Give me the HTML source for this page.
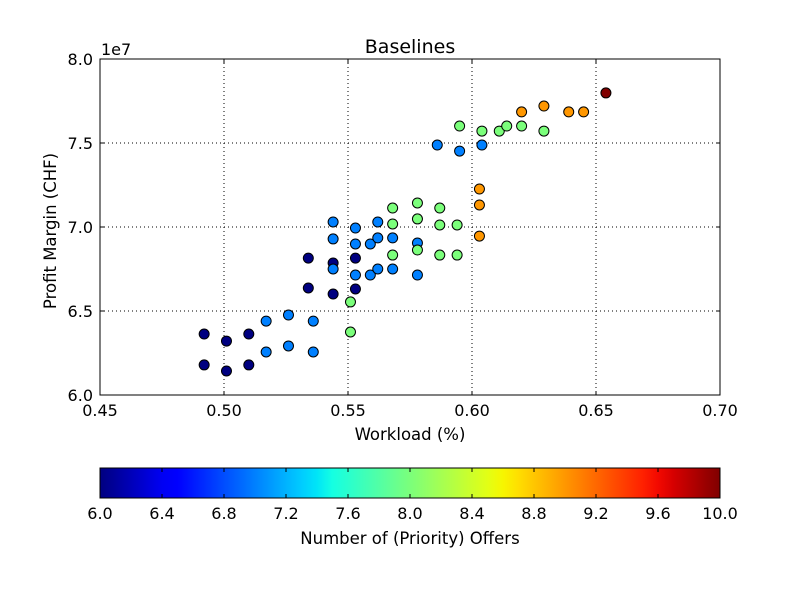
<!DOCTYPE html>
<html><head><meta charset="utf-8"><style>body{margin:0;background:#fff}svg{display:block;font-family:"DejaVu Sans","Liberation Sans",sans-serif}</style></head>
<body>
<svg id="chart" width="800" height="600" viewBox="0 0 800 600">
<defs>
<linearGradient id="jet" x1="0" x2="1" y1="0" y2="0"></linearGradient>
</defs>
<rect x="0" y="0" width="800" height="600" fill="#fff"/>
<text x="410" y="53" font-size="19" text-anchor="middle">Baselines</text>
<text x="101" y="55" font-size="16">1e7</text>
<g id="grid"></g>
<g id="marks"></g>
<rect x="100" y="59" width="620" height="336" fill="none" stroke="#000" stroke-width="1"/>
<g id="axes"></g>
<text x="410" y="440" font-size="16.5" text-anchor="middle">Workload (%)</text>
<text transform="translate(56,231) rotate(-90)" font-size="16.5" text-anchor="middle">Profit Margin (CHF)</text>
<rect x="100" y="468" width="620" height="30" fill="url(#jet)" stroke="#000"/>
<g id="cbticks"></g>
<text x="410" y="544" font-size="16.5" text-anchor="middle">Number of (Priority) Offers</text>
</svg>
<script>
const xTicks = [0.45, 0.50, 0.55, 0.60, 0.65, 0.70];
const yTicks = [6.0, 6.5, 7.0, 7.5, 8.0];
const cTicks = [6.0, 6.4, 6.8, 7.2, 7.6, 8.0, 8.4, 8.8, 9.2, 9.6, 10.0];
const xs = [0.492,0.492,0.501,0.501,0.510,0.510,0.534,0.534,0.544,0.544,0.553,0.553,
0.517,0.517,0.526,0.526,0.536,0.536,0.544,0.544,0.544,0.553,0.553,0.553,0.559,0.559,0.562,0.562,0.562,0.568,0.568,0.578,0.578,0.586,0.595,0.604,
0.551,0.551,0.568,0.568,0.568,0.578,0.578,0.578,0.587,0.587,0.587,0.594,0.594,0.595,0.604,0.611,0.614,0.620,0.629,
0.603,0.603,0.603,0.620,0.629,0.639,0.645,
0.654];
const ys = [6.363,6.179,6.321,6.143,6.363,6.179,6.815,6.637,6.786,6.601,6.815,6.631,
6.44,6.256,6.476,6.292,6.44,6.256,7.03,6.929,6.75,6.994,6.899,6.714,6.899,6.714,7.03,6.935,6.75,6.935,6.75,6.905,6.714,7.488,7.452,7.488,
6.554,6.375,7.113,7.018,6.833,7.143,7.048,6.863,7.113,7.012,6.833,7.012,6.833,7.601,7.571,7.571,7.601,7.601,7.571,
7.226,7.131,6.946,7.685,7.720,7.685,7.685,
7.798];
const cs = [6,6,6,6,6,6,6,6,6,6,6,6,
7,7,7,7,7,7,7,7,7,7,7,7,7,7,7,7,7,7,7,7,7,7,7,7,
8,8,8,8,8,8,8,8,8,8,8,8,8,8,8,8,8,8,8,
9,9,9,9,9,9,9,
10];
const NS="http://www.w3.org/2000/svg";
const X0=100,X1=720,Y0=395,Y1=59;
function sx(v){return X0+(v-0.45)/(0.70-0.45)*(X1-X0);}
function sy(v){return Y0-(v-6.0)/(8.0-6.0)*(Y0-Y1);}
function sc(v){return 100+(v-6)/(10-6)*620;}
const R=[[0,0],[0.35,0],[0.66,1],[0.89,1],[1,0.5]];
const G=[[0,0],[0.125,0],[0.375,1],[0.64,1],[0.91,0],[1,0]];
const B=[[0,0.5],[0.11,1],[0.34,1],[0.65,0],[1,0]];
function ch(s,t){for(let i=0;i<s.length-1;i++){if(t<=s[i+1][0]){const f=(t-s[i][0])/(s[i+1][0]-s[i][0]);return s[i][1]+(s[i+1][1]-s[i][1])*f;}}return s[s.length-1][1];}
function jet(t){return 'rgb('+[R,G,B].map(s=>Math.round(255*ch(s,t))).join(',')+')';}
function mk(tag,attrs,parent){const e=document.createElementNS(NS,tag);for(const k in attrs)e.setAttribute(k,attrs[k]);parent.appendChild(e);return e;}
const grad=document.getElementById('jet');
for(let i=0;i<=40;i++){mk('stop',{offset:i/40,'stop-color':jet(i/40)},grad);}
const grid=document.getElementById('grid'),axes=document.getElementById('axes'),marks=document.getElementById('marks'),cb=document.getElementById('cbticks');
xTicks.forEach(v=>{
  const x=sx(v);
  const g=mk('line',{x1:x,x2:x,y1:Y1,y2:Y0,stroke:'#000','stroke-dasharray':'1,3','stroke-width':1},grid);
  
  
  mk('line',{x1:x,x2:x,y1:Y0,y2:Y0-4,stroke:'#000'},axes);
  mk('line',{x1:x,x2:x,y1:Y1,y2:Y1+4,stroke:'#000'},axes);
  const t=mk('text',{x:x,y:Y0+21,'font-size':16,'text-anchor':'middle'},axes);
  t.textContent=v.toFixed(2);
  
  
});
yTicks.forEach(v=>{
  const y=sy(v);
  const g=mk('line',{x1:X0,x2:X1,y1:y,y2:y,stroke:'#000','stroke-dasharray':'1,3','stroke-width':1},grid);
  
  
  mk('line',{x1:X0,x2:X0+4,y1:y,y2:y,stroke:'#000'},axes);
  mk('line',{x1:X1,x2:X1-4,y1:y,y2:y,stroke:'#000'},axes);
  const t=mk('text',{x:X0-7,y:y+6,'font-size':16,'text-anchor':'end'},axes);
  t.textContent=v.toFixed(1);
  
  
});
xs.forEach((v,i)=>{
  const c=mk('circle',{cx:sx(v),cy:sy(ys[i]),r:5,fill:jet((cs[i]-6)/4),stroke:'#000','stroke-width':1},marks);
  
  
});
cTicks.forEach(v=>{
  const x=sc(v);
  mk('line',{x1:x,x2:x,y1:498,y2:494,stroke:'#000'},cb);
  mk('line',{x1:x,x2:x,y1:468,y2:472,stroke:'#000'},cb);
  const t=mk('text',{x:x,y:519,'font-size':16,'text-anchor':'middle'},cb);
  t.textContent=v.toFixed(1);
  
  
});
</script>
</body></html>
